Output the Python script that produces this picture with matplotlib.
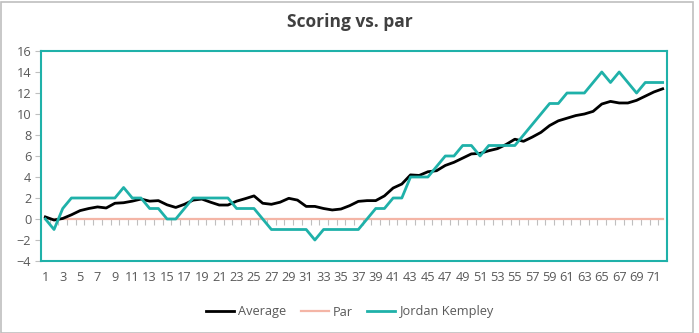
import numpy as np
import matplotlib
matplotlib.use("Agg")
import matplotlib.pyplot as plt
from matplotlib.patches import Rectangle

# données
holes = list(range(1, 73))
average = [0.2, -0.1, 0.05, 0.4, 0.8, 1.0, 1.15, 1.05, 1.5, 1.55,
           1.7, 1.9, 1.7, 1.75, 1.35, 1.1, 1.4, 1.8, 1.9, 1.6,
           1.33, 1.33, 1.7, 1.94, 2.2, 1.5, 1.4, 1.6, 1.97, 1.8,
           1.2, 1.2, 1.0, 0.86, 0.95, 1.27, 1.68, 1.75, 1.75, 2.2,
           2.95, 3.33, 4.2, 4.15, 4.5, 4.6, 5.1, 5.4, 5.8, 6.2,
           6.25, 6.5, 6.7, 7.1, 7.6, 7.4, 7.8, 8.25, 8.9, 9.35,
           9.6, 9.85, 10.0, 10.25, 10.95, 11.2, 11.05, 11.05, 11.3, 11.7,
           12.1, 12.4]
par = [0] * 72
kempley = [0, -1, 1, 2, 2, 2, 2, 2, 2, 3,
           2, 2, 1, 1, 0, 0, 1, 2, 2, 2,
           2, 2, 1, 1, 1, 0, -1, -1, -1, -1,
           -1, -2, -1, -1, -1, -1, -1, 0, 1, 1,
           2, 2, 4, 4, 4, 5, 6, 6, 7, 7,
           6, 7, 7, 7, 7, 8, 9, 10, 11, 11,
           12, 12, 12, 13, 14, 13, 14, 13, 12, 13,
           13, 13]

TEAL = "#1FB1A9"
GREY = "#595959"

plt.rcParams['font.family'] = ['Open Sans', 'DejaVu Sans']

fig = plt.figure(figsize=(6.99, 3.33), dpi=100)
ax = fig.add_axes([41 / 699, 1 - 261 / 333, 626 / 699, 210 / 333])

# cadre gris autour du graphique
fig.patches.append(Rectangle((1 / 699, 0.5 / 333), 692 / 699, 331 / 333,
                             transform=fig.transFigure, fill=False,
                             edgecolor="#BFBFBF", linewidth=1.2))

ax.plot(holes, par, color="#F4B5A6", linewidth=1.6, label="Par", zorder=2)
ax.plot(holes, average, color="black", linewidth=2.0, label="Average", zorder=3)
ax.plot(holes, kempley, color=TEAL, linewidth=2.0, label="Jordan Kempley", zorder=4)

ax.set_xlim(0.5, 72.5)
ax.set_ylim(-4, 16)
ax.set_yticks(range(-4, 17, 2))
ax.set_xticks(holes[::2])
ax.set_xticklabels([str(h) for h in holes[::2]])
ax.tick_params(axis='x', length=0, pad=7, labelsize=9.2, colors=GREY)
ax.tick_params(axis='y', length=4, width=0.8, color="#BFBFBF", pad=3,
               labelsize=9.2, labelcolor=GREY)

for s in ax.spines.values():
    s.set_color(TEAL)
    s.set_linewidth(1.5)

# graduations de l'axe des catégories sur la ligne du zéro
sec = ax.secondary_xaxis(4 / 20)
sec.set_xticks(np.arange(0.5, 73, 1.0))
sec.set_xticklabels([])
sec.tick_params(axis='x', length=4, width=0.8, color="#BFBFBF", direction='out')
sec.spines['bottom'].set_visible(False)

fig.text(0.5, 1 - 22 / 333, "Scoring vs. par", ha='center', va='center',
         fontsize=12.5, fontweight='bold', color="#404040")

handles, labels = ax.get_legend_handles_labels()
order = [1, 0, 2]
fig.legend([handles[i] for i in order], [labels[i] for i in order],
           loc='center', bbox_to_anchor=(350 / 699, 1 - 312 / 333), ncol=3,
           frameon=False, fontsize=9.2, labelcolor=GREY, handlelength=2.2,
           handletextpad=0.35, columnspacing=1.1)

fig.savefig("out.png", dpi=100)
